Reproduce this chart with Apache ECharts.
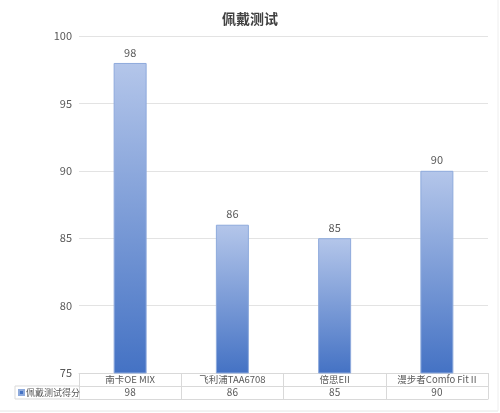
<!DOCTYPE html>
<html>
<head>
<meta charset="utf-8">
<script src="https://cdn.jsdelivr.net/npm/echarts@6/dist/echarts.min.js"></script>
<style>
html, body { margin: 0; padding: 0; background: #fff; }
#main { width: 500px; height: 413px; }
</style>
</head>
<body>
<div id="main"></div>
<script>
// 数据
var titleText = '佩戴测试';
var seriesName = '佩戴测试得分';
var categories = ['南卡OE MIX', '飞利浦TAA6708', '倍思EII', '漫步者Comfo Fit II'];
var scores = [98, 86, 85, 90];
var yTicks = { min: 75, max: 100, step: 5 };

var txtColor = '#595959';
var lineColor = '#d9d9d9';
var font = '"Noto Sans CJK SC", "Noto Sans", sans-serif';
var rowH = 13; // 表格行高

var chart = echarts.init(document.getElementById('main'));

var option = {
    animation: false,
    backgroundColor: '#fff',
    title: {
        text: titleText,
        left: 'center',
        top: 7,
        textStyle: { color: '#404040', fontSize: 14, fontWeight: 'bold', fontFamily: font }
    },
    legend: {
        left: 18,
        top: 388,
        padding: 0,
        itemWidth: 5,
        itemHeight: 5,
        itemGap: 2,
        icon: 'rect',
        data: [{ name: seriesName, itemStyle: { color: '#4472c4' } }],
        textStyle: { color: txtColor, fontSize: 9, fontFamily: font, padding: [0, 0, 0, -3] }
    },
    grid: { left: 79, right: 12, top: 36, bottom: 40, containLabel: false },
    xAxis: [{
        type: 'category',
        data: categories,
        position: 'bottom',
        axisLine: { lineStyle: { color: lineColor } },
        axisTick: { show: true, length: rowH * 2, interval: 0, lineStyle: { color: lineColor } },
        axisLabel: { color: txtColor, fontSize: 9.5, fontFamily: font, margin: 2, interval: 0 }
    }, {
        type: 'category',
        data: categories,
        position: 'bottom',
        offset: rowH,
        axisLine: { lineStyle: { color: lineColor } },
        axisTick: { show: false },
        axisLabel: {
            color: txtColor, fontSize: 10, fontFamily: font, margin: 1, interval: 0,
            formatter: function (v, i) { return String(scores[i]); }
        }
    }, {
        type: 'category',
        data: categories,
        position: 'bottom',
        offset: rowH * 2,
        axisLine: { lineStyle: { color: lineColor } },
        axisTick: { show: false },
        axisLabel: { show: false }
    }],
    yAxis: {
        type: 'value',
        min: yTicks.min,
        max: yTicks.max,
        interval: yTicks.step,
        axisLine: { show: false },
        axisTick: { show: false },
        axisLabel: { color: txtColor, fontSize: 11, fontFamily: font, margin: 7 },
        splitLine: { lineStyle: { color: '#e3e3e3' } }
    },
    series: [{
        name: seriesName,
        type: 'bar',
        barWidth: 33,
        data: scores,
        itemStyle: {
            color: new echarts.graphic.LinearGradient(0, 0, 0, 1, [
                { offset: 0, color: '#b4c6ea' },
                { offset: 1, color: '#4472c4' }
            ]),
            borderColor: '#8eaadc',
            borderWidth: 1
        },
        label: {
            show: true,
            position: 'top',
            distance: 5,
            color: txtColor,
            fontSize: 11,
            fontFamily: font
        }
    }],
    graphic: [
        // 图例单元格边框
        { type: 'line', shape: { x1: 15, y1: 373 + rowH, x2: 79, y2: 373 + rowH }, style: { stroke: lineColor } },
        { type: 'line', shape: { x1: 15, y1: 373 + rowH * 2, x2: 79, y2: 373 + rowH * 2 }, style: { stroke: lineColor } },
        { type: 'line', shape: { x1: 15, y1: 373 + rowH, x2: 15, y2: 373 + rowH * 2 }, style: { stroke: lineColor } },
        // 外框
        { type: 'line', shape: { x1: 0, y1: 411, x2: 498, y2: 411 }, style: { stroke: '#e6e6e6' } },
        { type: 'line', shape: { x1: 498, y1: 0, x2: 498, y2: 411 }, style: { stroke: '#eeeeee' } }
    ]
};

chart.setOption(option);
</script>
</body>
</html>
